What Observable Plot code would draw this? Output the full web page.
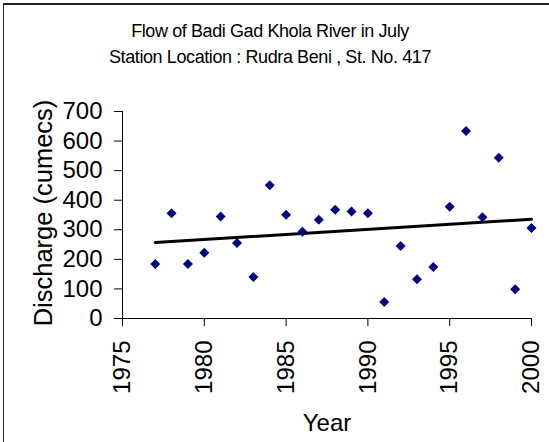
<!DOCTYPE html>
<html>
<head>
<meta charset="utf-8">
<script src="https://cdn.jsdelivr.net/npm/d3@7"></script>
<script src="https://cdn.jsdelivr.net/npm/@observablehq/plot@0.6"></script>
<style>
  html, body { margin: 0; padding: 0; background: #fff; }
  #wrap { position: relative; width: 549px; height: 442px; overflow: hidden; background: #fff;
          font-family: "Liberation Sans", Arial, sans-serif; color: #000; }
  #topline { position: absolute; left: 3px; top: 3px; width: 546px; height: 2px; background: #222; }
  #leftline { position: absolute; left: 3px; top: 3px; width: 1px; height: 439px; background: #222; }
  #titles { position: absolute; left: 0; top: 0; width: 540px; height: 80px; text-align: center; }
  #t1 { position: absolute; left: 0; width: 540px; top: 21px; font-size: 18px; letter-spacing: -0.4px; }
  #t2 { position: absolute; left: 0; width: 540px; top: 47px; font-size: 18px; letter-spacing: -0.4px; }
  #chart { position: absolute; left: 0; top: 80px; }
</style>
</head>
<body>
<div id="wrap">
  <div id="topline"></div>
  <div id="leftline"></div>
  <div id="titles">
    <div id="t1">Flow of Badi Gad Khola River in July</div>
    <div id="t2">Station Location : Rudra Beni , St. No. 417</div>
  </div>
  <div id="chart"></div>
</div>
<script>
const years = [1977, 1978, 1979, 1980, 1981, 1982, 1983, 1984, 1985, 1986, 1987, 1988,
               1989, 1990, 1991, 1992, 1993, 1994, 1995, 1996, 1997, 1998, 1999, 2000];
const discharge = [184, 356, 184, 222, 345, 255, 140, 451, 351, 293, 334, 368,
                   362, 356, 56, 245, 133, 174, 378, 634, 342, 544, 99, 306];
const xTicks = [1975, 1980, 1985, 1990, 1995, 2000];
const yTicks = [0, 100, 200, 300, 400, 500, 600, 700];
const yLabel = "Discharge (cumecs)";
const xLabel = "Year";

const data = years.map((year, i) => ({year, value: discharge[i]}));

const chart = Plot.plot({
  width: 549,
  height: 362,
  marginTop: 31,
  marginBottom: 124,
  marginLeft: 122,
  marginRight: 18,
  style: {fontFamily: "'Liberation Sans', Arial, sans-serif", fontSize: "24px", background: "transparent", color: "#000", overflow: "visible"},
  x: {domain: [1975, 2000]},
  y: {domain: [0, 700]},
  marks: [
    Plot.axisY({ticks: yTicks, tickSize: 8, tickPadding: 12, label: null, fontSize: 24}),
    Plot.axisX({ticks: xTicks, tickSize: 8, tickPadding: 14, tickRotate: -90, tickFormat: d => String(d), label: null, fontSize: 24}),
    Plot.ruleX([1975], {stroke: "#000"}),
    Plot.ruleY([0], {stroke: "#000"}),
    Plot.linearRegressionY(data, {x: "year", y: "value", stroke: "#000", strokeWidth: 3, ci: 0}),
    Plot.dot(data, {x: "year", y: "value", symbol: "diamond2", r: 4.5, fill: "#000080", stroke: "none"}),
    Plot.text([yLabel], {frameAnchor: "left", rotate: -90, dx: -79, dy: -2, fontSize: 25.5, textAnchor: "middle", lineAnchor: "middle", fill: "#000"}),
    Plot.text([xLabel], {frameAnchor: "bottom", dy: 105, fontSize: 24, textAnchor: "middle", lineAnchor: "middle", fill: "#000"})
  ]
});
document.getElementById("chart").appendChild(chart);
</script>
</body>
</html>
